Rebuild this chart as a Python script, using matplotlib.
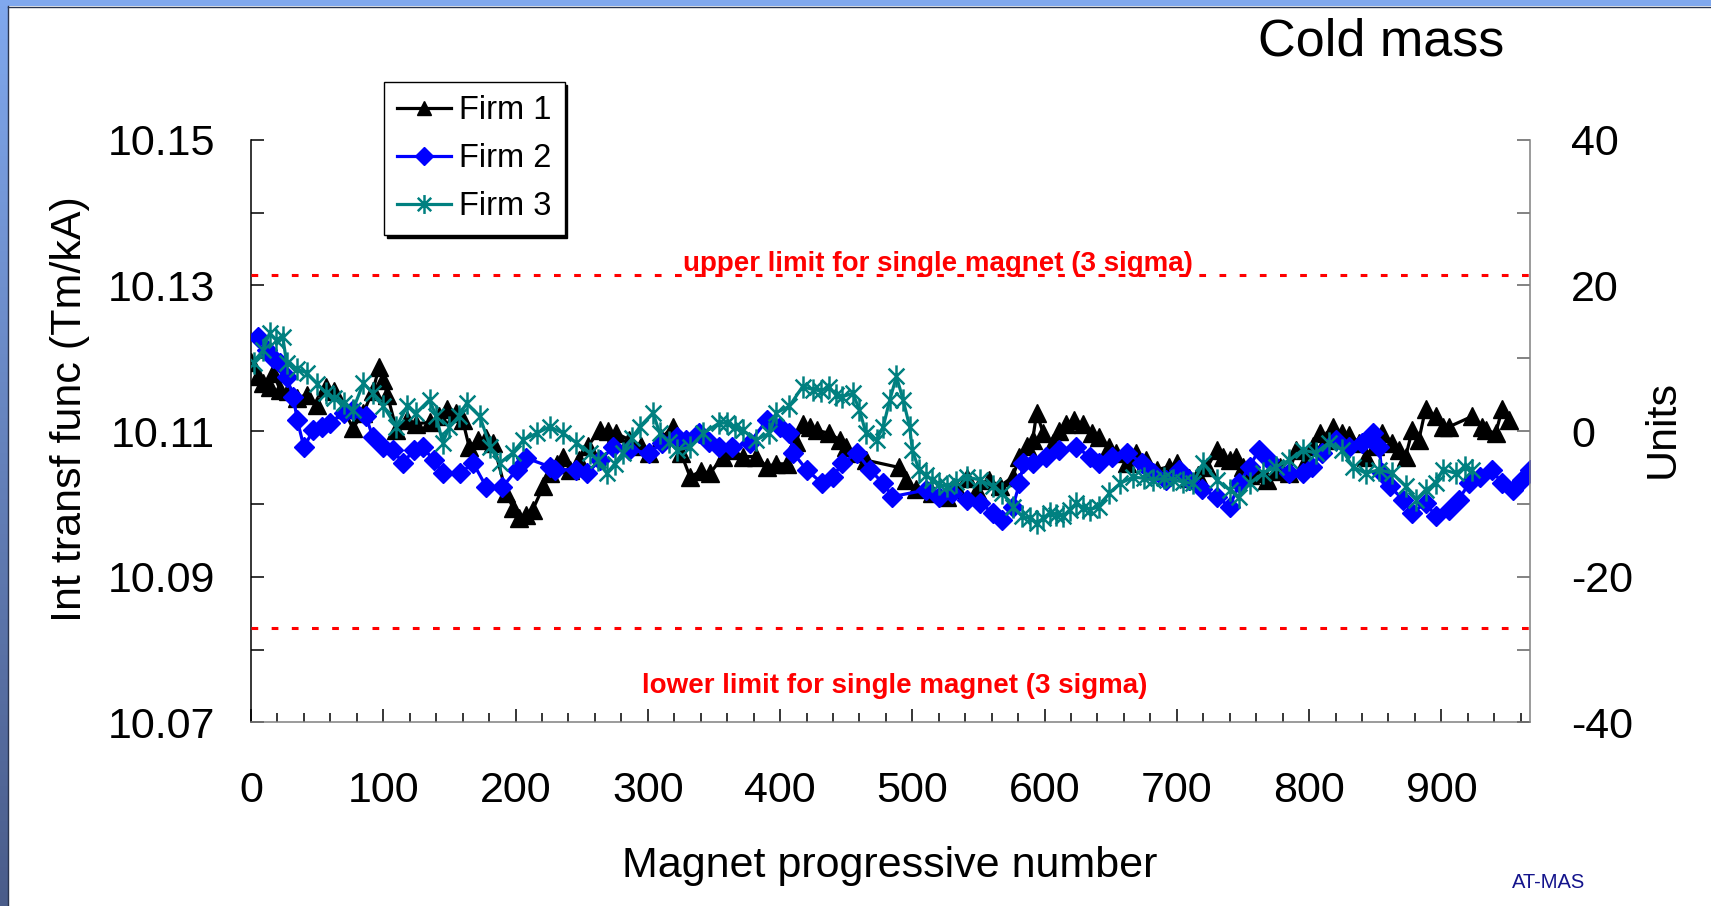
import matplotlib
matplotlib.use("Agg")
import matplotlib.pyplot as plt
import numpy as np
from matplotlib.path import Path
from matplotlib.patches import Rectangle
from matplotlib.lines import Line2D
from matplotlib.colors import LinearSegmentedColormap

plt.rcParams['font.family'] = ['Liberation Sans', 'DejaVu Sans']
plt.rcParams['axes.unicode_minus'] = False

# Integrated transfer function, in units of 1e-4 relative to 10.11 Tm/kA
firm1_x = [0, 5, 9, 14, 17, 22, 28, 35, 42, 50, 57, 63, 70, 77, 85, 92, 97, 100, 103, 110,
           118, 125, 135, 142, 148, 155, 160, 165, 172, 178, 183, 193, 198, 203, 208, 213, 221, 226, 231, 236,
           241, 248, 255, 264, 270, 276, 286, 295, 301, 310, 319, 325, 332, 340, 347, 357, 364, 372, 382, 390,
           397, 405, 412, 417, 423, 428, 437, 445, 450, 458, 465, 490, 495, 503, 515, 526, 534, 541, 549, 558,
           566, 576, 581, 587, 591, 594, 599, 606, 611, 616, 622, 629, 636, 641, 649, 654, 662, 669, 677, 685,
           694, 700, 709, 716, 723, 730, 735, 740, 745, 750, 755, 760, 768, 775, 778, 785, 790, 798, 803, 808,
           813, 818, 825, 830, 838, 843, 850, 855, 863, 868, 873, 878, 883, 888, 896, 901, 906, 923, 931, 934,
           941, 946, 951]
firm1_u = [9.5, 7.5, 6.6, 6.0, 8.0, 5.6, 5.5, 4.5, 5.0, 3.6, 6.0, 5.5, 3.0, 0.4, 2.5, 5.5, 8.8, 7.0, 5.0, 0.2,
           1.5, 1.0, 1.2, 2.0, 3.0, 2.5, 1.5, -2.2, -1.2, -1.0, -1.6, -8.5, -10.5, -11.9, -11.5, -10.8, -7.6, -5.8, -4.5, -3.5,
           -5.3, -4.0, -2.0, 0.2, 0.0, -0.3, -1.2, -2.0, -3.0, -1.0, 0.6, -3.0, -6.3, -5.5, -5.8, -3.5, -2.6, -3.5, -3.5, -4.9,
           -4.5, -4.5, -1.5, 1.0, 0.6, 0.1, -0.3, -1.2, -2.2, -3.0, -4.0, -5.0, -6.7, -8.0, -8.5, -9.0, -8.0, -6.5, -8.1, -6.7,
           -7.6, -6.3, -3.5, -2.0, -1.2, 2.5, -0.3, -1.6, 0.0, 1.0, 1.5, 1.0, -0.3, -0.8, -2.2, -3.0, -4.4, -3.0, -4.0, -5.3,
           -4.9, -4.4, -6.5, -6.0, -5.0, -2.6, -3.5, -4.0, -3.5, -4.9, -6.0, -5.8, -6.7, -5.5, -5.0, -5.8, -2.6, -4.0, -2.0, -0.3,
           -1.2, 0.6, -0.3, -0.5, -1.6, -3.5, -2.0, -0.3, -1.6, -2.6, -3.5, 0.1, -1.2, 3.0, 2.0, 0.6, 0.6, 2.0, 0.6, 0.1,
           -0.3, 3.0, 1.5]

firm2_x = [5, 12, 17, 22, 27, 32, 35, 40, 47, 54, 60, 70, 77, 87, 92, 100, 107, 115, 123, 130,
           138, 145, 158, 168, 178, 190, 201, 208, 226, 230, 246, 254, 264, 274, 286, 301, 311, 322, 329, 339,
           346, 354, 364, 377, 390, 400, 407, 410, 420, 432, 440, 447, 458, 468, 478, 485, 510, 520, 530, 541,
           551, 561, 568, 576, 581, 584, 591, 601, 611, 624, 634, 641, 651, 662, 674, 682, 692, 702, 709, 719,
           730, 740, 747, 755, 762, 770, 785, 795, 802, 810, 820, 830, 840, 848, 853, 855, 861, 871, 878, 888,
           896, 906, 913, 921, 929, 938, 946, 954, 961, 967]
firm2_u = [12.9, 11.1, 10.0, 9.3, 7.4, 4.7, 1.5, -2.2, 0.1, 0.6, 1.1, 2.5, 2.9, 2.0, -0.8, -2.2, -2.6, -4.4, -2.6, -2.2,
           -4.0, -5.8, -5.8, -4.4, -7.7, -7.7, -5.3, -3.7, -4.9, -5.3, -5.3, -5.8, -4.0, -2.2, -2.6, -3.0, -1.6, -0.8, -1.2, -0.3,
           -1.5, -2.2, -2.2, -1.6, 1.5, 0.6, -0.3, -3.0, -5.3, -7.2, -6.3, -4.4, -3.0, -5.3, -7.2, -9.0, -8.1, -9.0, -8.5, -9.4,
           -9.9, -11.2, -12.2, -10.4, -7.2, -4.4, -4.4, -3.5, -2.6, -2.2, -3.5, -4.4, -3.5, -3.0, -4.4, -5.8, -6.7, -5.3, -6.7, -8.0,
           -9.0, -10.4, -7.2, -4.9, -2.6, -4.0, -5.8, -5.8, -4.9, -3.0, -1.2, -2.2, -1.6, -0.3, -2.2, -5.8, -7.6, -9.4, -11.2, -9.9,
           -11.7, -10.8, -9.4, -7.2, -6.3, -5.3, -7.2, -8.1, -6.7, -5.3]

firm3_x = [2, 9, 14, 19, 24, 27, 35, 42, 50, 57, 63, 70, 77, 85, 92, 100, 110, 118, 125, 135,
           140, 145, 150, 157, 163, 173, 181, 188, 198, 206, 216, 226, 236, 246, 256, 262, 269, 275, 281, 288,
           294, 304, 309, 316, 322, 332, 342, 354, 360, 366, 372, 382, 392, 397, 407, 417, 425, 431, 437, 442,
           447, 455, 460, 465, 473, 478, 483, 488, 493, 498, 500, 505, 510, 515, 520, 526, 533, 541, 551, 561,
           568, 576, 583, 589, 594, 599, 604, 609, 614, 619, 624, 629, 634, 641, 649, 657, 667, 675, 682, 690,
           697, 705, 712, 720, 730, 740, 747, 755, 765, 775, 785, 795, 805, 815, 825, 833, 843, 853, 863, 873,
           881, 888, 896, 901, 911, 918, 923]
firm3_u = [9.3, 11.1, 13.4, 12.5, 12.9, 9.3, 8.5, 8.0, 6.5, 5.2, 4.5, 3.8, 2.9, 6.6, 5.2, 3.4, 0.6, 3.4, 2.5, 4.3,
           2.0, -1.6, 0.6, 2.0, 3.8, 2.0, -2.2, -4.4, -3.0, -1.2, -0.3, 0.6, -0.3, -1.6, -3.0, -4.0, -5.8, -4.5, -3.0, -1.0,
           0.6, 2.5, -0.3, -1.5, -2.6, -2.2, -0.3, 1.1, 1.1, 0.5, 0.1, -1.2, -0.3, 2.5, 3.4, 6.1, 5.7, 5.5, 6.1, 5.0,
           4.7, 5.2, 2.9, -0.3, -1.2, 0.6, 4.3, 7.5, 4.3, 0.6, -2.6, -5.3, -6.0, -6.7, -7.3, -7.6, -7.0, -6.3, -6.7, -7.6,
           -8.5, -10.4, -11.7, -12.0, -12.6, -12.0, -11.2, -11.5, -11.7, -10.8, -9.9, -10.5, -10.8, -10.4, -8.5, -7.2, -6.3, -6.5, -6.7, -6.5,
           -6.7, -7.0, -7.2, -4.4, -6.7, -8.1, -9.0, -7.2, -5.8, -4.9, -4.0, -2.6, -3.0, -1.6, -2.6, -4.9, -5.8, -5.3, -5.8, -7.6,
           -9.4, -8.1, -7.2, -5.3, -5.8, -4.9, -5.3]

# 3 sigma limits for a single magnet (units)
upper_limit = 21.4
lower_limit = -27.1

left_ticks = [10.07, 10.09, 10.11, 10.13, 10.15]
right_ticks = [-40, -20, 0, 20, 40]
x_ticks = [0, 100, 200, 300, 400, 500, 600, 700, 800, 900]

W, H = 1711, 906
fig = plt.figure(figsize=(W / 100, H / 100), dpi=100)

# blue frame of the slide
strip = fig.add_axes([0, 0, 8 / W, 1])
cmap = LinearSegmentedColormap.from_list('frame', ['#4a5c8a', '#80a8ee'])
strip.imshow(np.linspace(1, 0, 256).reshape(-1, 1), aspect='auto', cmap=cmap)
strip.axis('off')
fig.add_artist(Rectangle((0, 1 - 6 / H), 1, 6 / H, transform=fig.transFigure,
                         facecolor='#80a8ee', edgecolor='none'))
fig.add_artist(Line2D([8 / W, 8 / W], [0, 1 - 6 / H], transform=fig.transFigure, color='#2a3550', lw=1))
fig.add_artist(Line2D([8 / W, 1], [1 - 6.5 / H, 1 - 6.5 / H], transform=fig.transFigure, color='#2a3550', lw=1))

ax = fig.add_axes([251 / W, 1 - 722.4 / H, 1279 / W, 582.7 / H])
ax2 = ax.twinx()

ax.set_xlim(0, 967)
ax.set_ylim(10.07, 10.15)
ax.set_xticks(x_ticks)
ax.set_xticks(np.arange(20, 967, 20), minor=True)
ax.set_yticks(left_ticks)
ax.set_yticks([10.08, 10.10, 10.12, 10.14], minor=True)
ax.set_yticklabels([f'{t:.2f}' for t in left_ticks])
ax.tick_params(axis='x', which='major', direction='in', length=9.5, width=1.1, labelsize=31, pad=35)
ax.tick_params(axis='x', which='minor', direction='in', length=6.5, width=1.1)
ax.tick_params(axis='y', which='both', direction='in', length=9.5, width=1.1, labelsize=31, pad=26)

ax2.set_ylim(-40, 40)
ax2.set_yticks(right_ticks)
ax2.set_yticks([-30, -10, 10, 30], minor=True)
ax2.tick_params(axis='y', which='both', direction='in', length=9.5, width=1.1, labelsize=31, pad=29.5,
                color='#606060')

for s in ['top', 'right']:
    ax.spines[s].set_visible(False)
for s in ['top', 'left', 'bottom']:
    ax2.spines[s].set_visible(False)
ax.spines['left'].set_linewidth(1.1)
ax.spines['bottom'].set_color('#808080')
ax.spines['bottom'].set_linewidth(1.1)
ax2.spines['right'].set_color('#808080')
ax2.spines['right'].set_linewidth(1.1)

# limit lines
for lim in (upper_limit, lower_limit):
    ax2.axhline(lim, color='red', lw=2.2, linestyle=(0, (2.2, 4.4)))
ax2.text(519, 22.9, 'upper limit for single magnet (3 sigma)', color='red', fontsize=20,
         fontweight='bold', ha='center', va='center')
ax2.text(487, -35.0, 'lower limit for single magnet (3 sigma)', color='red', fontsize=20,
         fontweight='bold', ha='center', va='center')

star = Path([(0, -1), (0, 1), (-0.71, -0.71), (0.71, 0.71), (-0.71, 0.71), (0.71, -0.71)],
            [Path.MOVETO, Path.LINETO] * 3)

ax2.plot(firm1_x, firm1_u, color='black', lw=2.3, marker='^', ms=12.5, label='Firm 1')
ax2.plot(firm2_x, firm2_u, color='blue', lw=2.3, marker='D', ms=10.5, label='Firm 2')
ax2.plot(firm3_x, firm3_u, color='#008080', lw=2.3, marker=star, ms=16, mew=1.8, label='Firm 3')

leg = ax2.legend(loc='upper left', bbox_to_anchor=(384 / W, 1 - 82 / H), bbox_transform=fig.transFigure,
                 borderaxespad=0, fontsize=23.5, fancybox=False, shadow={'color': 'black', 'alpha': 1},
                 edgecolor='black', framealpha=1, handlelength=1.65, handletextpad=0.25,
                 labelspacing=0.52, borderpad=0.4, numpoints=1, markerscale=0.85)
leg.get_frame().set_linewidth(1.0)

fig.text(1381 / W, 1 - 41.5 / H, 'Cold mass', fontsize=37.5, ha='center', va='center')
fig.text(70 / W, 1 - 409 / H, 'Int transf func (Tm/kA)', fontsize=31, rotation=90, ha='center', va='center')
fig.text(890 / W, 1 - 866 / H, 'Magnet progressive number', fontsize=31, ha='center', va='center')
fig.text(1663 / W, 1 - 429 / H, 'Units', fontsize=31, rotation=90, ha='center', va='center')
fig.text(1549 / W, 1 - 882 / H, 'AT-MAS', fontsize=14.5, color='#14148c', ha='center', va='center')

fig.savefig('out.png', dpi=100, facecolor='white')
